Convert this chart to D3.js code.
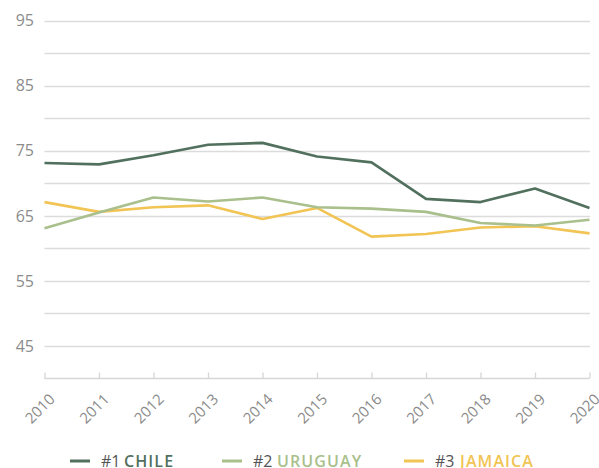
<!DOCTYPE html>
<html>
<head>
<meta charset="utf-8">
<script src="https://d3js.org/d3.v7.min.js"></script>
<style>
  body { margin: 0; background: #fff; }
  text { font-family: "Open Sans", sans-serif; }
</style>
</head>
<body>
<svg id="chart" width="599" height="468"></svg>
<script>
// data
var years = [2010, 2011, 2012, 2013, 2014, 2015, 2016, 2017, 2018, 2019, 2020]
var chile   = [73.1, 72.9, 74.3, 75.9, 76.2, 74.1, 73.2, 67.6, 67.1, 69.2, 66.2]
var uruguay = [63.1, 65.5, 67.8, 67.2, 67.8, 66.3, 66.1, 65.6, 63.9, 63.5, 64.4]
var jamaica = [67.1, 65.6, 66.3, 66.6, 64.5, 66.2, 61.8, 62.2, 63.2, 63.4, 62.3]
var yLabels = [45, 55, 65, 75, 85, 95]
var series = [
  { rank: "#1", name: "CHILE",   values: chile,   color: "#52705e" },
  { rank: "#2", name: "URUGUAY", values: uruguay, color: "#a9bf8c" },
  { rank: "#3", name: "JAMAICA", values: jamaica, color: "#f1c453" }
]

var svg = d3.select("#chart")

var x = d3.scaleLinear().domain([2010, 2020]).range([44.5, 589.5])
var y = d3.scaleLinear().domain([40, 95]).range([378.5, 20.5])

// grid lines every 5
var grid = d3.range(45, 96, 5)
svg.append("g").selectAll("line")
  .data(grid).enter().append("line")
    .attr("x1", 44.5).attr("x2", 590)
    .attr("y1", function (d) { return Math.round(y(d)) + 0.5 })
    .attr("y2", function (d) { return Math.round(y(d)) + 0.5 })
    .attr("stroke", "#dcdcdc")
    .attr("stroke-width", 1.3)

// y labels
svg.append("g").selectAll("text")
  .data(yLabels).enter().append("text")
    .attr("x", 34)
    .attr("y", function (d) { return y(d) })
    .attr("dy", "0.36em")
    .attr("text-anchor", "end")
    .attr("font-size", 16)
    .attr("fill", "#8c8c8c")
    .text(function (d) { return d })

// x axis
var xAxis = d3.axisBottom(x)
  .tickValues(years)
  .tickFormat(d3.format("d"))
  .tickSize(6)
var gx = svg.append("g")
  .attr("transform", "translate(0," + 378.5 + ")")
  .call(xAxis)
gx.select(".domain").attr("stroke", "#d6d6d6").attr("stroke-width", 1.3)
  .attr("d", "M44.5,0H589.5")
gx.selectAll(".tick line").attr("stroke", "#d6d6d6").attr("stroke-width", 1.3)
  .attr("y1", 0).attr("y2", -6)
gx.selectAll(".tick text")
  .attr("font-family", "Open Sans, sans-serif")
  .attr("font-size", 15)
  .attr("fill", "#8a8a8a")
  .attr("text-anchor", "end")
  .attr("transform", "translate(7,18) rotate(-45)")
  .attr("dy", "0.35em")
  .attr("y", 0)

// lines
var line = d3.line()
  .x(function (d, i) { return x(years[i]) })
  .y(function (d) { return y(d) })

svg.append("g").selectAll("path")
  .data(series.slice().reverse()).enter().append("path")
    .attr("d", function (s) { return line(s.values) })
    .attr("fill", "none")
    .attr("stroke", function (s) { return s.color })
    .attr("stroke-width", 2.6)
    .attr("stroke-linejoin", "round")

// legend
var legendX = [70, 222, 404]
var nameX = [124, 277, 460]
var lg = svg.append("g").selectAll("g")
  .data(series).enter().append("g")
    .attr("transform", function (s, i) { return "translate(" + legendX[i] + ",461)" })
lg.append("line")
  .attr("x1", 0).attr("x2", 20)
  .attr("stroke", function (s) { return s.color })
  .attr("stroke-width", 3)
lg.append("text")
  .attr("x", 31)
  .attr("dy", "0.36em")
  .attr("font-size", 16)
  .attr("fill", "#555")
  .text(function (s) { return s.rank })
lg.append("text")
  .attr("x", function (s, i) { return nameX[i] - legendX[i] })
  .attr("dy", "0.36em")
  .attr("font-size", 16)
  .attr("font-weight", 600)
  .attr("letter-spacing", 1.1)
  .attr("fill", function (s) { return s.color })
  .text(function (s) { return s.name })
</script>
</body>
</html>
